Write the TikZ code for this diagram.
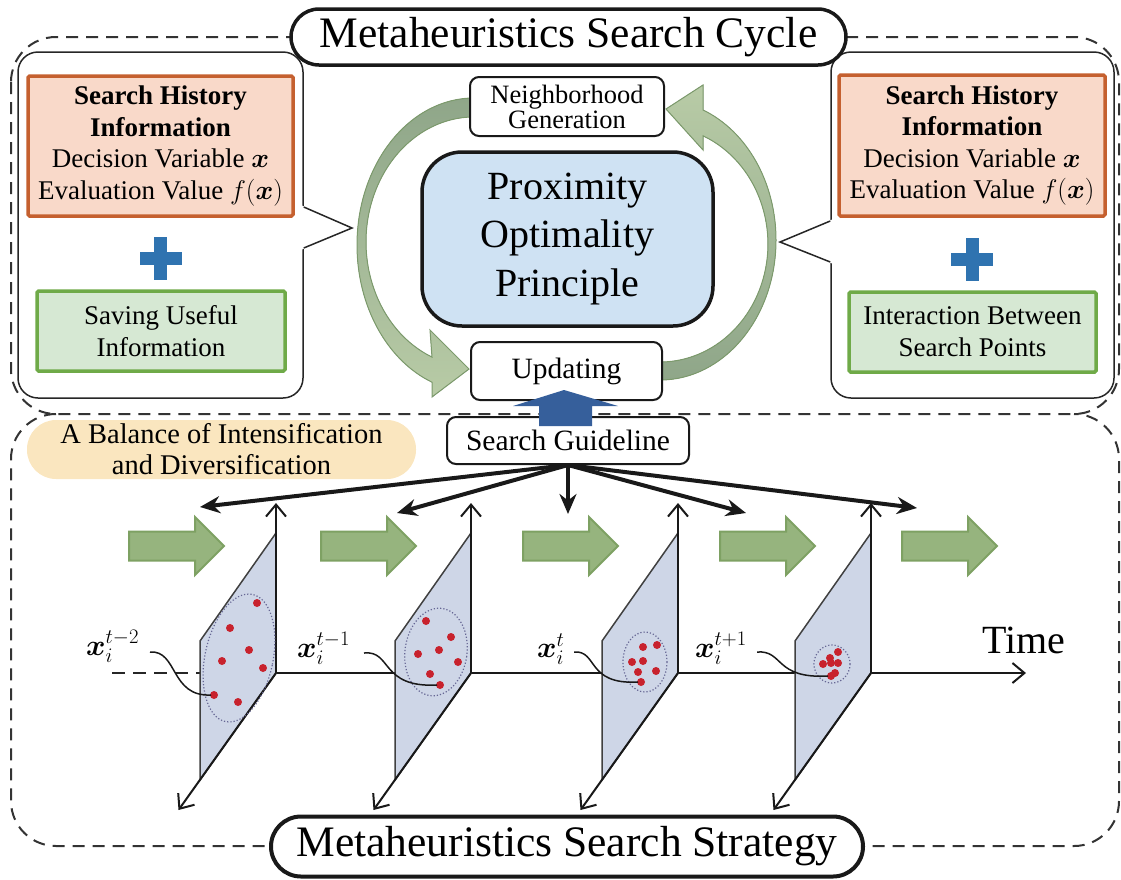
\RequirePackage{fix-cm}
\documentclass[tikz,border=0pt]{standalone}
\usepackage{amsmath,bm}
\usepackage{fontspec}
\setmainfont{Liberation Serif}
\usetikzlibrary{arrows.meta,calc}

\definecolor{histfill}{HTML}{F9D9C9}
\definecolor{histedge}{HTML}{C5602F}
\definecolor{savefill}{HTML}{D6E8D3}
\definecolor{saveedge}{HTML}{6FAA48}
\definecolor{plusblue}{HTML}{2F73B0}
\definecolor{popfill}{HTML}{CFE2F3}
\definecolor{balfill}{HTML}{FAE6BF}
\definecolor{planefill}{HTML}{CED6E7}
\definecolor{dotred}{HTML}{C8222D}
\definecolor{upblue}{HTML}{365F9B}
\definecolor{gfill}{HTML}{96B47E}
\definecolor{gedge}{HTML}{7EA163}
\definecolor{cycdark}{HTML}{8FA689}
\definecolor{cyclight}{HTML}{B8CBA6}
\definecolor{cycedge}{HTML}{7C9A6C}

\begin{document}
\begin{tikzpicture}[x=1pt,y=-1pt,
  dashframe/.style={draw=black!80, line width=2pt, dash pattern=on 12pt off 8pt, rounded corners=45pt},
  titlebox/.style={draw=black!90, line width=3.5pt, fill=white, rounded corners=28pt, inner sep=0pt,
    font=\fontsize{43.5}{50}\selectfont},
  panel/.style={draw=black!85, line width=1.5pt, fill=white, rounded corners=20pt, inner sep=0pt},
  panelline/.style={draw=black!85, line width=1.5pt},
  histbox/.style={draw=histedge, fill=histfill, line width=3.5pt, rounded corners=1.5pt, inner sep=0pt,
    align=center, font=\fontsize{27}{31.5}\selectfont},
  savebox/.style={draw=saveedge, fill=savefill, line width=3.5pt, rounded corners=1.5pt, inner sep=0pt,
    align=center, font=\fontsize{27}{32}\selectfont},
  stepbox/.style={draw=black!90, fill=white, line width=2pt, rounded corners=9pt, inner sep=0pt, align=center},
  popbox/.style={draw=black!90, fill=popfill, line width=3.5pt, rounded corners=40pt, inner sep=0pt,
    align=center, font=\fontsize{40}{48.5}\selectfont},
  balbox/.style={fill=balfill, rounded corners=29pt, inner sep=0pt, align=center,
    font=\fontsize{28.5}{31}\selectfont},
  guide/.style={draw=black!90, line width=4pt, -{Stealth[length=20pt,width=17pt]}},
  axisline/.style={draw=black!90, line width=2pt, -{Straight Barb[length=12pt,width=20pt]}},
  planeedge/.style={draw=black!75, line width=1.5pt, fill=planefill},
  cluster/.style={draw=black!70!blue!60, line width=1.2pt, dotted},
  leader/.style={draw=black!90, line width=1.5pt},
  xlabel/.style={anchor=base west, inner sep=0pt, font=\fontsize{29.5}{33}\selectfont},
  cycarrow/.style={draw=cycedge, line width=1pt},
  plus/.pic={\fill[plusblue] (-21,-6.5) rectangle (21,6.5);
             \fill[plusblue] (-6.5,-21.5) rectangle (6.5,21.5);},
  garrow/.pic={\draw[draw=gedge, fill=gfill, line width=2pt]
     (0,-14.5) -- (66,-14.5) -- (66,-29) -- (95,0) -- (66,29) -- (66,14.5) -- (0,14.5) -- cycle;}
]
\useasboundingbox (0,0) rectangle (1121,879);

% ---------- dashed frames ----------
\draw[dashframe] (56,414) -- (11,414) -- (11,846) -- (1119,846) -- (1119,414) -- (1074,414);
\draw[dashframe] (11,37) rectangle (1119,414);

% ---------- side panels with pointers ----------
\node[panel, minimum width=285pt, minimum height=346pt] (lpanel) at (160.5,225) {};
\fill[white] ($(lpanel.east)+(-3,-20)$) -- (352,228) -- ($(lpanel.east)+(-3,25)$) -- cycle;
\draw[panelline] ($(lpanel.east)+(0,-18)$) -- (352,228) -- ($(lpanel.east)+(0,23)$);

\node[panel, minimum width=283pt, minimum height=346pt] (rpanel) at (972.5,225) {};
\fill[white] ($(rpanel.west)+(3,-6)$) -- (780,242) -- ($(rpanel.west)+(3,39)$) -- cycle;
\draw[panelline] ($(rpanel.west)+(0,-4)$) -- (780,242) -- ($(rpanel.west)+(0,37)$);

\node[histbox, minimum width=265pt, minimum height=140pt] (lhist) at (160.5,146)
  {\textbf{Search History}\\ \textbf{Information}\\ Decision Variable $\bm{x}$\\ Evaluation Value $f(\bm{x})$};
\node[histbox, minimum width=266pt, minimum height=141pt] (rhist) at (972,145.5)
  {\textbf{Search History}\\ \textbf{Information}\\ Decision Variable $\bm{x}$\\ Evaluation Value $f(\bm{x})$};
\pic at (160.5,258.5) {plus};
\pic at (972,259) {plus};
\node[savebox, minimum width=248pt, minimum height=80pt] (lsave) at (161,331) {Saving Useful\\Information};
\node[savebox, minimum width=247pt, minimum height=80pt] (rsave) at (972.5,332) {Interaction Between\\Search Points};

% ---------- search cycle ----------
\fill[top color=cycdark, bottom color=cyclight]
  (474,98) arc[start angle=-90, end angle=-249.0, x radius=117, y radius=147]
  -- (432,397) -- (469,369) -- (430,330) -- (432,357.1)
  arc[start angle=-247.1, end angle=-90, x radius=108, y radius=125] -- cycle;
\draw[cycarrow]
  (474,98) arc[start angle=-90, end angle=-249.0, x radius=117, y radius=147]
  -- (432,397) -- (469,369) -- (430,330) -- (432,357.1)
  arc[start angle=-247.1, end angle=-90, x radius=108, y radius=125] -- cycle;
\fill[top color=cyclight, bottom color=cycdark]
  (660,380) arc[start angle=90, end angle=-68.2, x radius=116, y radius=140]
  -- (703,85) -- (666,109) -- (703,150) -- (703,135.8)
  arc[start angle=-66.5, end angle=90, x radius=108, y radius=118] -- cycle;
\draw[cycarrow]
  (660,380) arc[start angle=90, end angle=-68.2, x radius=116, y radius=140]
  -- (703,85) -- (666,109) -- (703,150) -- (703,135.8)
  arc[start angle=-66.5, end angle=90, x radius=108, y radius=118] -- cycle;

\node[stepbox, minimum width=194pt, minimum height=59pt, font=\fontsize{26.5}{25}\selectfont] (nbr) at (567,106.5)
  {Neighborhood\\Generation};
\node[popbox, minimum width=291pt, minimum height=174pt] (pop) at (567.5,239) {Proximity\\Optimality\\Principle};
\node[stepbox, minimum width=191pt, minimum height=58pt, font=\fontsize{29.5}{34}\selectfont] (upd) at (566.5,371) {Updating};
\node[stepbox, minimum width=242pt, minimum height=47pt, font=\fontsize{29.5}{34}\selectfont] (sg) at (568,440.5) {Search Guideline};

% guideline feeds the update step
\fill[upblue] ($(sg.north)+(-29,10)$) -- ++(0,-20) -- ++(-26,0) -- ($(upd.south)+(-2.5,-11)$)
  -- ($(sg.north)+(50,-10)$) -- ++(-26,0) -- ($(sg.north)+(24,10)$) -- cycle;

% ---------- balance label ----------
\node[balbox, minimum width=389pt, minimum height=59pt] (bal) at (221.5,449.5)
  {A Balance of Intensification\\and Diversification};

% ---------- green flow arrows ----------
\foreach \gx in {129,321,523,720,902} \pic at (\gx,546) {garrow};

% ---------- time axis ----------
\coordinate (tstart) at (112,673);
\coordinate (tfirst) at (199,673);
\coordinate (tend) at (1026,673);
\draw[draw=black!85, line width=2pt, dash pattern=on 13pt off 8pt] (tstart) -- (tfirst);
\draw[axisline] (tfirst) -- (tend);
\node[anchor=base west, inner sep=0pt, font=\fontsize{40}{46}\selectfont] (time) at (982,653) {Time};

% ---------- search-space planes ----------
\foreach \xr in {276,471,678,871} {
  \draw[planeedge] (\xr,673) -- (\xr,533) -- (\xr-76,641) -- (\xr-76,780) -- cycle;
  \coordinate (o\xr) at (\xr,673);
  \coordinate (up\xr) at (\xr,503);
  \coordinate (dn\xr) at (\xr-97.5,810);
  \draw[axisline] (o\xr) -- (up\xr);
  \draw[axisline] (o\xr) -- (dn\xr);
}

% ---------- populations ----------
\draw[cluster] (239,658) circle[x radius=34, y radius=65, rotate=-12];
\draw[cluster] (436,652) circle[x radius=31, y radius=44, rotate=-8];
\draw[cluster] (645,662) circle[x radius=22, y radius=30];
\draw[cluster] (832,664) circle[x radius=18, y radius=19];

\foreach \p in {(257,603),(230,628),(249,650),(222,661),(263,668),(214,695),(238,702),
                (426,621),(451,637),(418,654),(439,650),(458,662),(430,674),(440,685),
                (643,647),(657,645),(632,662),(643,661),(638,672),(656,671),(641,682),
                (838,652),(830,658),(823,664),(831,663),(838,663),(835,673),(831,676)}
  \fill[dotred] \p circle[radius=4];

% ---------- individual labels ----------
\node[xlabel] (x1) at (86,655) {$\bm{x}_i^{t-2}$};
\node[xlabel] (x2) at (297,657) {$\bm{x}_i^{t-1}$};
\node[xlabel] (x3) at (537,657) {$\bm{x}_i^{t}$};
\node[xlabel] (x4) at (695,657) {$\bm{x}_i^{t+1}$};

\coordinate (s1) at (150,652); \coordinate (e1) at (211,695);
\coordinate (s2) at (364,653); \coordinate (e2) at (437,685);
\coordinate (s3) at (574,652); \coordinate (e3) at (638,682);
\coordinate (s4) at (757,652); \coordinate (e4) at (828,676);
\draw[leader] (s1) .. controls (178,650) and (170,697) .. (e1);
\draw[leader] (s2) .. controls (392,650) and (380,688) .. (e2);
\draw[leader] (s3) .. controls (598,650) and (586,685) .. (e3);
\draw[leader] (s4) .. controls (784,650) and (774,679) .. (e4);

% ---------- search guideline fan ----------
\coordinate (g1) at (200,507);
\coordinate (g2) at (397,513);
\coordinate (g3) at (568,514);
\coordinate (g4) at (746,513);
\coordinate (g5) at (917,508);
\foreach \g in {g1,g2,g3,g4,g5} \draw[guide] (sg.south) -- (\g);

% ---------- titles ----------
\node[titlebox, minimum width=555pt, minimum height=56pt] (cycleT) at (568.5,37) {Metaheuristics Search Cycle};
\node[titlebox, line width=4pt, minimum width=592pt, minimum height=60pt, rounded corners=30pt] (strategyT) at (567,846.5)
  {Metaheuristics Search Strategy};
\end{tikzpicture}
\end{document}
